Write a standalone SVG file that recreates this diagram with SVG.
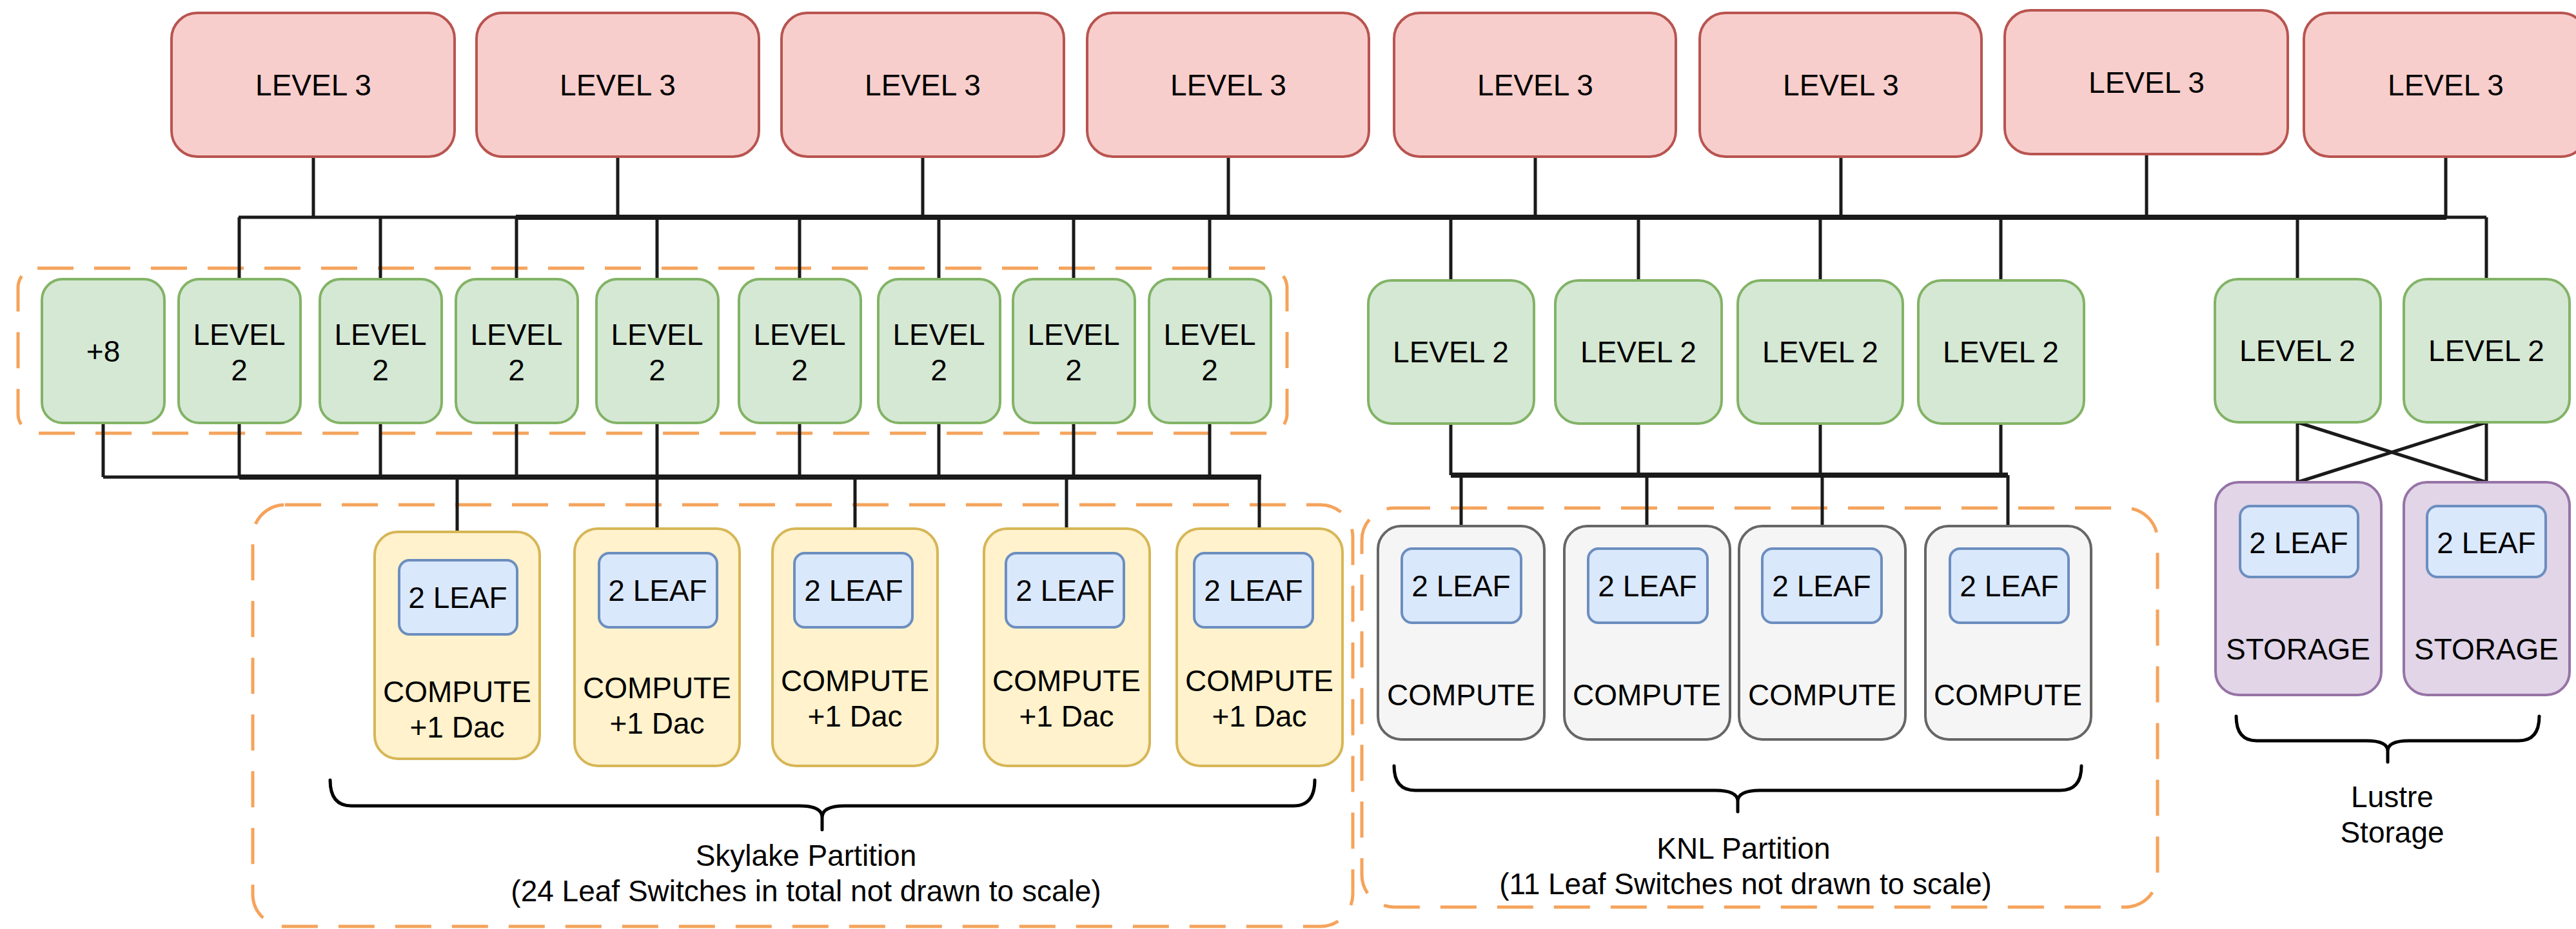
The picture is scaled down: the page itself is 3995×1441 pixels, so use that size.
<svg xmlns="http://www.w3.org/2000/svg" width="3995" height="1441" viewBox="0 0 3995 1441">
<style>
text{font-family:"Liberation Sans",Arial,Helvetica,sans-serif;font-size:46px;fill:#000;text-anchor:middle}
.l3{fill:#f8cecc;stroke:#b85450;stroke-width:4}
.l2{fill:#d5e8d4;stroke:#82b366;stroke-width:4}
.sky{fill:#fff2cc;stroke:#d6b656;stroke-width:4}
.knl{fill:#f5f5f5;stroke:#666666;stroke-width:4}
.sto{fill:#e1d5e7;stroke:#9673a6;stroke-width:4}
.leaf{fill:#dae8fc;stroke:#6c8ebf;stroke-width:4}
.grp{fill:none;stroke:#f5a35c;stroke-width:5;stroke-dasharray:56 32}
.ln{fill:none;stroke:#1a1a1a;stroke-width:5}
.bus{fill:none;stroke:#1a1a1a;stroke-width:8}
.br{fill:none;stroke:#000;stroke-width:5;stroke-linejoin:round;stroke-linecap:round}
</style>
<rect width="3995" height="1441" fill="#fff"/>
<g id="groups">
<rect id="sky-l2-group" class="grp" x="28" y="416" width="1968" height="256" rx="30"/>
<rect id="sky-partition" class="grp" x="392" y="783" width="1706" height="654" rx="50"/>
<rect id="knl-partition" class="grp" x="2112" y="788" width="1234" height="619" rx="50"/>
</g>
<g id="connectors">
<line class="ln" x1="370" y1="337" x2="3856" y2="337"/>
<line class="bus" x1="800" y1="337" x2="3794" y2="337"/>
<path class="ln" d="M486 243V337M958 243V337M1431 243V337M1905 243V337M2381 243V337M2855 243V337M3329 239V337M3793 243V337"/>
<path class="ln" d="M371 337V433M590 337V433M801 337V433M1019 337V433M1240 337V433M1456 337V433M1665 337V433M1876 337V433M2250 337V435M2541 337V435M2823 337V435M3103 337V435M3563 337V433M3856 337V433"/>
<line class="ln" x1="160" y1="740" x2="371" y2="740"/>
<line class="bus" x1="371" y1="740" x2="1956" y2="740"/>
<path class="ln" d="M160 656V740M371 656V740M590 656V740M801 656V740M1019 656V820M1240 656V740M1456 656V740M1665 656V740M1876 656V740"/>
<path class="ln" d="M709 740V825M1326 740V820M1654 740V820M1953 740V820"/>
<line class="bus" x1="2250" y1="737" x2="3114" y2="737"/>
<path class="ln" d="M2250 657V737M2541 657V737M2823 657V737M3103 657V737"/>
<path class="ln" d="M2266 737V816M2554 737V816M2826 737V816M3114 737V816"/>
<path class="ln" d="M3563 655V748M3856 655V748M3563 655L3856 748M3856 655L3563 748"/>
</g>
<g id="level3">
<g id="l3-1"><rect class="l3" x="266" y="20" width="439" height="223" rx="40"/><text x="486" y="148">LEVEL 3</text></g>
<g id="l3-2"><rect class="l3" x="739" y="20" width="438" height="223" rx="40"/><text x="958" y="148">LEVEL 3</text></g>
<g id="l3-3"><rect class="l3" x="1212" y="20" width="438" height="223" rx="40"/><text x="1431" y="148">LEVEL 3</text></g>
<g id="l3-4"><rect class="l3" x="1686" y="20" width="437" height="223" rx="40"/><text x="1905" y="148">LEVEL 3</text></g>
<g id="l3-5"><rect class="l3" x="2162" y="20" width="437" height="223" rx="40"/><text x="2381" y="148">LEVEL 3</text></g>
<g id="l3-6"><rect class="l3" x="2636" y="20" width="437" height="223" rx="40"/><text x="2855" y="148">LEVEL 3</text></g>
<g id="l3-7"><rect class="l3" x="3109" y="16" width="439" height="223" rx="40"/><text x="3329" y="144">LEVEL 3</text></g>
<g id="l3-8"><rect class="l3" x="3573" y="20" width="439" height="223" rx="40"/><text x="3793" y="148">LEVEL 3</text></g>
</g>
<g id="level2-skylake">
<g id="l2-plus8"><rect class="l2" x="65" y="433" width="190" height="223" rx="32"/><text x="160" y="561">+8</text></g>
<g id="l2-s1"><rect class="l2" x="277" y="433" width="189" height="223" rx="32"/><text x="371" y="535">LEVEL</text><text x="371" y="590">2</text></g>
<g id="l2-s2"><rect class="l2" x="496" y="433" width="189" height="223" rx="32"/><text x="590" y="535">LEVEL</text><text x="590" y="590">2</text></g>
<g id="l2-s3"><rect class="l2" x="707" y="433" width="189" height="223" rx="32"/><text x="801" y="535">LEVEL</text><text x="801" y="590">2</text></g>
<g id="l2-s4"><rect class="l2" x="925" y="433" width="189" height="223" rx="32"/><text x="1019" y="535">LEVEL</text><text x="1019" y="590">2</text></g>
<g id="l2-s5"><rect class="l2" x="1146" y="433" width="189" height="223" rx="32"/><text x="1240" y="535">LEVEL</text><text x="1240" y="590">2</text></g>
<g id="l2-s6"><rect class="l2" x="1362" y="433" width="189" height="223" rx="32"/><text x="1456" y="535">LEVEL</text><text x="1456" y="590">2</text></g>
<g id="l2-s7"><rect class="l2" x="1571" y="433" width="189" height="223" rx="32"/><text x="1665" y="535">LEVEL</text><text x="1665" y="590">2</text></g>
<g id="l2-s8"><rect class="l2" x="1782" y="433" width="189" height="223" rx="32"/><text x="1876" y="535">LEVEL</text><text x="1876" y="590">2</text></g>
</g>
<g id="level2-knl">
<g id="l2-k1"><rect class="l2" x="2122" y="435" width="257" height="222" rx="36"/><text x="2250" y="562">LEVEL 2</text></g>
<g id="l2-k2"><rect class="l2" x="2412" y="435" width="258" height="222" rx="36"/><text x="2541" y="562">LEVEL 2</text></g>
<g id="l2-k3"><rect class="l2" x="2695" y="435" width="256" height="222" rx="36"/><text x="2823" y="562">LEVEL 2</text></g>
<g id="l2-k4"><rect class="l2" x="2975" y="435" width="257" height="222" rx="36"/><text x="3103" y="562">LEVEL 2</text></g>
</g>
<g id="level2-storage">
<g id="l2-st1"><rect class="l2" x="3435" y="433" width="257" height="222" rx="36"/><text x="3563" y="560">LEVEL 2</text></g>
<g id="l2-st2"><rect class="l2" x="3728" y="433" width="257" height="222" rx="36"/><text x="3856" y="560">LEVEL 2</text></g>
</g>
<g id="skylake-compute">
<g id="sc1"><rect class="sky" x="581" y="825" width="256" height="352" rx="36"/><rect class="leaf" x="619" y="869" width="183" height="115" rx="16"/><text x="710" y="943">2 LEAF</text><text x="709" y="1089">COMPUTE</text><text x="709" y="1144">+1 Dac</text></g>
<g id="sc2"><rect class="sky" x="891" y="820" width="256" height="368" rx="36"/><rect class="leaf" x="929" y="858" width="183" height="115" rx="16"/><text x="1020" y="932">2 LEAF</text><text x="1019" y="1083">COMPUTE</text><text x="1019" y="1138">+1 Dac</text></g>
<g id="sc3"><rect class="sky" x="1198" y="820" width="256" height="368" rx="36"/><rect class="leaf" x="1232" y="858" width="183" height="115" rx="16"/><text x="1324" y="932">2 LEAF</text><text x="1326" y="1072">COMPUTE</text><text x="1326" y="1127">+1 Dac</text></g>
<g id="sc4"><rect class="sky" x="1526" y="820" width="257" height="368" rx="36"/><rect class="leaf" x="1560" y="858" width="183" height="115" rx="16"/><text x="1652" y="932">2 LEAF</text><text x="1654" y="1072">COMPUTE</text><text x="1654" y="1127">+1 Dac</text></g>
<g id="sc5"><rect class="sky" x="1825" y="820" width="257" height="368" rx="36"/><rect class="leaf" x="1852" y="858" width="184" height="115" rx="16"/><text x="1944" y="932">2 LEAF</text><text x="1953" y="1072">COMPUTE</text><text x="1953" y="1127">+1 Dac</text></g>
</g>
<g id="knl-compute">
<g id="kc1"><rect class="knl" x="2137" y="816" width="258" height="331" rx="36"/><rect class="leaf" x="2174" y="851" width="185" height="115" rx="16"/><text x="2266" y="925">2 LEAF</text><text x="2266" y="1094">COMPUTE</text></g>
<g id="kc2"><rect class="knl" x="2426" y="816" width="257" height="331" rx="36"/><rect class="leaf" x="2463" y="851" width="185" height="115" rx="16"/><text x="2555" y="925">2 LEAF</text><text x="2554" y="1094">COMPUTE</text></g>
<g id="kc3"><rect class="knl" x="2697" y="816" width="258" height="331" rx="36"/><rect class="leaf" x="2733" y="851" width="185" height="115" rx="16"/><text x="2825" y="925">2 LEAF</text><text x="2826" y="1094">COMPUTE</text></g>
<g id="kc4"><rect class="knl" x="2986" y="816" width="257" height="331" rx="36"/><rect class="leaf" x="3024" y="851" width="184" height="115" rx="16"/><text x="3116" y="925">2 LEAF</text><text x="3114" y="1094">COMPUTE</text></g>
</g>
<g id="storage">
<g id="st1"><rect class="sto" x="3436" y="748" width="257" height="330" rx="36"/><rect class="leaf" x="3474" y="785" width="183" height="110" rx="16"/><text x="3565" y="858">2 LEAF</text><text x="3564" y="1023">STORAGE</text></g>
<g id="st2"><rect class="sto" x="3728" y="748" width="257" height="330" rx="36"/><rect class="leaf" x="3764" y="785" width="184" height="110" rx="16"/><text x="3856" y="858">2 LEAF</text><text x="3856" y="1023">STORAGE</text></g>
</g>
<g id="braces">
<path class="br" d="M512 1210Q512 1250 545 1250L1240 1250Q1275 1250 1275 1268L1275 1287M2039 1210Q2039 1250 2006 1250L1310 1250Q1275 1250 1275 1268"/>
<path class="br" d="M2162 1188Q2162 1226 2195 1226L2660 1226Q2695 1226 2695 1243L2695 1259M3228 1188Q3228 1226 3195 1226L2730 1226Q2695 1226 2695 1243"/>
<path class="br" d="M3468 1111Q3468 1149 3500 1149L3670 1149Q3703 1149 3703 1165L3703 1182M3938 1111Q3938 1149 3906 1149L3736 1149Q3703 1149 3703 1165"/>
</g>
<g id="labels">
<text x="1250" y="1343">Skylake Partition</text>
<text x="1250" y="1398">(24 Leaf Switches in total not drawn to scale)</text>
<text x="2704" y="1332">KNL Partition</text>
<text x="2707" y="1387">(11 Leaf Switches not drawn to scale)</text>
<text x="3710" y="1252">Lustre</text>
<text x="3710" y="1307">Storage</text>
</g>
</svg>
